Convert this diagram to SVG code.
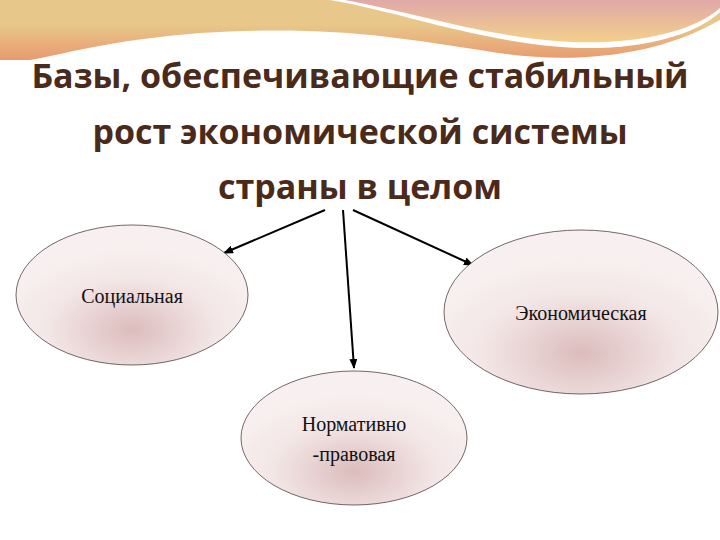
<svg xmlns="http://www.w3.org/2000/svg" width="720" height="540" viewBox="0 0 720 540">
<defs>
<linearGradient id="band" x1="0" y1="0" x2="0" y2="1"><stop offset="0.4" stop-color="#e8c88a"/><stop offset="1" stop-color="#e89a70"/></linearGradient>
<linearGradient id="pink" x1="0" y1="0" x2="0" y2="1"><stop offset="0" stop-color="#e0a8a8"/><stop offset="1" stop-color="#f4d08a"/></linearGradient>
<radialGradient id="node" cx="0.5" cy="0.75" r="0.6"><stop offset="0" stop-color="#dcbcbc"/><stop offset="0.6" stop-color="#f3e6e6"/><stop offset="1" stop-color="#f8f0f0"/></radialGradient>
<marker id="ah" markerWidth="10" markerHeight="8" refX="9" refY="4" orient="auto" markerUnits="userSpaceOnUse"><path d="M0,0 L10,4 L0,8 Z" fill="#000"/></marker>
<style>
.t{font-family:"Open Sans","Liberation Sans",sans-serif;font-weight:bold;font-size:34px;fill:#4a2a1a;text-anchor:middle}
.n{fill:url(#node);stroke:#3a2a2a;stroke-width:0.7}
.l{font-family:"Liberation Serif",serif;font-size:20px;fill:#111;text-anchor:middle}
.c{stroke:#000;stroke-width:2;fill:none;marker-end:url(#ah)}
</style>
</defs>
<rect width="720" height="540" fill="#fff"/>
<g id="decor">
<path d="M0,0 H720 V20 C650,60 560,65 480,50 C400,38 330,25 200,33 C110,40 60,55 30,60 L0,60 Z" fill="url(#band)"/>
<path d="M320,0 H720 V12 C690,40 620,55 540,45 C460,35 390,10 330,0 Z" fill="#fff"/>
<path d="M345,0 H720 V8 C690,35 620,48 545,40 C470,32 410,12 345,0 Z" fill="url(#pink)"/>
</g>
<g id="title">
<text class="t" x="360" y="88">Базы, обеспечивающие стабильный</text>
<text class="t" x="360" y="144">рост экономической системы</text>
<text class="t" x="360" y="199">страны в целом</text>
</g>
<g id="connectors">
<line class="c" x1="325" y1="210" x2="224" y2="253"/>
<line class="c" x1="343" y1="210" x2="354" y2="368"/>
<line class="c" x1="353" y1="210" x2="473" y2="265"/>
</g>
<g id="social"><ellipse class="n" cx="132" cy="295" rx="116" ry="70"/><text class="l" x="132" y="303">Социальная</text></g>
<g id="economic"><ellipse class="n" cx="581" cy="312" rx="137" ry="82"/><text class="l" x="581" y="320">Экономическая</text></g>
<g id="normative"><ellipse class="n" cx="354" cy="438" rx="113" ry="67"/><text class="l" x="354" y="431">Нормативно</text><text class="l" x="354" y="461">-правовая</text></g>
</svg>
